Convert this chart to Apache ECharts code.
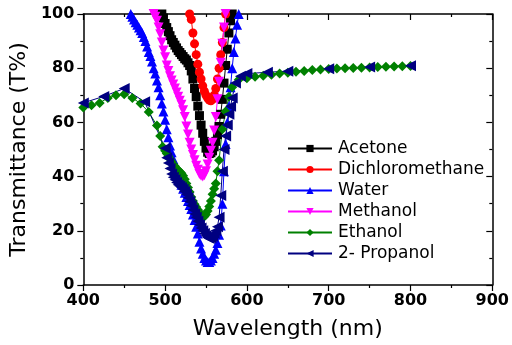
<!DOCTYPE html>
<html>
<head>
<meta charset="utf-8">
<script src="https://cdn.jsdelivr.net/npm/echarts@6/dist/echarts.min.js"></script>
<style>
  html, body { margin: 0; padding: 0; background: #fff; }
  #chart { width: 512px; height: 345px; }
</style>
</head>
<body>
<div id="chart"></div>
<script>
// transmittance spectra
var acetoneNm = [496, 498, 500, 502, 504, 506, 508, 510, 512, 514, 516, 518, 520, 522, 524, 526, 528, 530, 532, 534, 536, 538, 540, 542, 544, 546, 548, 550, 552, 554, 556, 558, 560, 562, 564, 566, 568, 570, 572, 574, 576, 578, 580, 582];
var acetoneT = [100, 98.5, 96.5, 95, 93.5, 92, 90.5, 89.5, 88.5, 87.5, 86.5, 85.8, 85, 84.3, 83.5, 83, 82, 81, 79, 76, 72.5, 69.5, 66, 62.5, 59, 56, 53, 50.5, 49, 48.5, 48.8, 49.5, 51, 53, 55.5, 58.5, 63, 68.5, 74.5, 81, 87, 93, 97.5, 100];

var dcmNm = [530, 532, 534, 536, 538, 540, 542, 544, 546, 548, 550, 552, 554, 556, 558, 560, 562, 564, 566, 568, 570, 572, 574];
var dcmT = [100, 98, 93, 89, 85, 81.5, 78.5, 76, 73.5, 71.5, 70, 69, 68.2, 68, 68.5, 70, 72.5, 76, 80, 85, 89.5, 95, 100];

var waterNm = [458, 460, 462, 464, 466, 468, 470, 472, 474, 476, 478, 480, 482, 484, 486, 488, 490, 492, 494, 496, 498, 500, 502, 504, 506, 508, 510, 512, 514, 516, 518, 520, 522, 524, 526, 528, 530, 532, 534, 536, 538, 540, 542, 544, 546, 548, 550, 552, 554, 556, 558, 560, 562, 564, 566, 568, 570, 572, 574, 576, 578, 580, 582, 584, 586, 588, 590];
var waterT = [100, 99, 98, 97, 96, 95, 94, 93, 91.5, 90, 88, 86, 84.5, 82.5, 80, 78, 75.5, 73, 70, 67, 64, 61, 57.5, 54.5, 51.5, 49, 46.5, 44, 42, 40, 38.5, 37, 35.5, 34, 32.5, 31, 29.5, 28, 26, 24, 21.5, 19, 16, 13.5, 11.5, 10, 9, 8.5, 8.5, 9, 10, 11.5, 13, 15.5, 18.5, 22, 30, 42, 52, 60, 66, 73, 80, 86, 91, 96, 100];

var methanolNm = [486, 488, 490, 492, 494, 496, 498, 500, 502, 504, 506, 508, 510, 512, 514, 516, 518, 520, 522, 524, 526, 528, 530, 532, 534, 536, 538, 540, 542, 544, 546, 548, 550, 552, 554, 556, 558, 560, 562, 564, 566, 568, 570, 572, 574];
var methanolT = [100, 99, 97.5, 95, 92.5, 89.5, 86.5, 84, 81, 79, 77, 75.5, 74, 72.5, 71, 69.5, 68, 66.5, 64.5, 62, 58.5, 55.5, 52.5, 50, 48, 46, 44, 42.5, 41, 40.3, 40, 40.5, 42, 44.5, 47, 49.5, 52.5, 57, 62, 68.5, 75, 82, 89, 95, 100];

var ethanolNm = [400, 410, 420, 430, 440, 450, 460, 470, 480, 490, 494, 497, 500, 502, 504, 506, 508, 510, 512, 514, 516, 518, 520, 522, 524, 526, 528, 530, 532, 534, 536, 538, 540, 542, 544, 546, 548, 550, 552, 554, 556, 558, 560, 562, 564, 566, 570, 574, 578, 582, 590, 600, 610, 620, 630, 640, 650, 660, 670, 680, 690, 700, 710, 720, 730, 740, 750, 760, 770, 780, 790, 800];
var ethanolT = [65.5, 66.3, 67.2, 69, 70, 70.4, 69, 67, 63.8, 58.9, 55, 51, 49.5, 48.5, 47.5, 46.5, 45.5, 44.5, 43.8, 43, 42.3, 41.8, 41.2, 40.3, 39, 37.5, 36, 34.3, 32.5, 31, 29.8, 28.8, 27.8, 26.8, 26, 25.5, 25.3, 26, 27.3, 29, 31, 33.5, 35.5, 37.5, 42, 46, 57.5, 64, 69.5, 73, 75.7, 76.3, 76.8, 77.2, 77.6, 78, 78.3, 78.7, 79, 79.3, 79.5, 79.7, 79.9, 80, 80.1, 80.2, 80.3, 80.4, 80.5, 80.6, 80.7, 80.8];

var propanolNm = [400, 425, 450, 475, 500, 502, 504, 506, 508, 510, 512, 514, 516, 518, 520, 522, 524, 526, 528, 530, 532, 534, 536, 538, 540, 542, 544, 546, 548, 550, 552, 554, 556, 558, 560, 562, 564, 566, 568, 570, 572, 574, 576, 578, 580, 582, 586, 592, 600, 625, 650, 700, 750, 800];
var propanolT = [67.2, 69.6, 72.5, 67.6, 50.5, 47, 45, 43, 41, 39.8, 38.8, 37.8, 37, 36.5, 36, 35.3, 34.5, 33.5, 32.2, 30.8, 29.3, 27.8, 26.2, 25, 23.5, 22.2, 21, 20, 19, 18.2, 17.5, 17.2, 17.4, 18, 19, 20, 21.5, 25, 33, 42, 50, 55, 59, 63, 66, 69, 74.5, 77, 78, 78.5, 78.9, 79.8, 80.4, 80.9];

var seriesNames = ['Acetone', 'Dichloromethane', 'Water', 'Methanol', 'Ethanol', '2- Propanol'];
var colors = ['#000000', '#ff0000', '#0000ff', '#ff00ff', '#008000', '#000080'];
var symbols = ['rect', 'circle', 'triangle', 'triangle', 'diamond', 'triangle'];
var rotations = [0, 0, 0, 180, 0, 90];
var sizes = [9, 9, 10, 10, 10, 11];
var xs = [acetoneNm, dcmNm, waterNm, methanolNm, ethanolNm, propanolNm];
var ys = [acetoneT, dcmT, waterT, methanolT, ethanolT, propanolT];

function pairs(a, b) {
    var out = [];
    for (var i = 0; i < a.length; i++) {
        out.push([a[i], b[i]]);
    }
    return out;
}

var series = [];
for (var k = 0; k < seriesNames.length; k++) {
    series.push({
        name: seriesNames[k],
        type: 'line',
        xAxisIndex: 0,
        yAxisIndex: 0,
        data: pairs(xs[k], ys[k]),
        symbol: symbols[k],
        symbolRotate: rotations[k],
        symbolSize: sizes[k],
        showAllSymbol: true,
        clip: true,
        animation: false,
        lineStyle: { color: colors[k], width: 1 },
        itemStyle: { color: colors[k], borderWidth: 0 }
    });
}

var frame = { show: true, onZero: false, lineStyle: { color: '#000', width: 1.5 } };

var chart = echarts.init(document.getElementById('chart'));
chart.setOption({
    backgroundColor: '#fff',
    animation: false,
    grid: { left: 80, right: 19, top: 14, bottom: 58 },
    legend: {
        orient: 'vertical',
        left: 282,
        top: 135,
        itemWidth: 44,
        itemHeight: 9,
        itemGap: 4,
        data: seriesNames,
        textStyle: { fontFamily: 'DejaVu Sans', fontSize: 17, color: '#000', lineHeight: 17, padding: [0, 0, 0, 1] }
    },
    xAxis: [{
        type: 'value',
        position: 'bottom',
        min: 400, max: 900, interval: 100,
        name: 'Wavelength (nm)',
        nameLocation: 'middle',
        nameGap: 33,
        nameTextStyle: { fontFamily: 'DejaVu Sans', fontSize: 22, color: '#000' },
        axisLine: frame,
        axisTick: { show: true, inside: false, length: 6, lineStyle: { color: '#000', width: 1.2 } },
        minorTick: { show: true, splitNumber: 2, length: 3, lineStyle: { color: '#000', width: 1.2 } },
        axisLabel: { margin: 8, fontFamily: 'DejaVu Sans', fontWeight: 'bold', fontSize: 16, color: '#000' },
        splitLine: { show: false }
    }, {
        type: 'value',
        position: 'top',
        min: 400, max: 900, interval: 100,
        axisLine: frame,
        axisTick: { show: true, inside: true, length: 6, lineStyle: { color: '#000', width: 1.2 } },
        minorTick: { show: true, splitNumber: 2, length: 3, lineStyle: { color: '#000', width: 1.2 } },
        axisLabel: { show: false },
        splitLine: { show: false }
    }],
    yAxis: [{
        type: 'value',
        position: 'left',
        min: 0, max: 100, interval: 20,
        name: 'Transmittance (T%)',
        nameLocation: 'middle',
        nameGap: 42,
        nameTextStyle: { fontFamily: 'DejaVu Sans', fontSize: 22, color: '#000' },
        axisLine: frame,
        axisTick: { show: true, inside: false, length: 6, lineStyle: { color: '#000', width: 1.2 } },
        minorTick: { show: true, splitNumber: 2, length: 3, lineStyle: { color: '#000', width: 1.2 } },
        axisLabel: { margin: 9, fontFamily: 'DejaVu Sans', fontWeight: 'bold', fontSize: 16, color: '#000' },
        splitLine: { show: false }
    }, {
        type: 'value',
        position: 'right',
        min: 0, max: 100, interval: 20,
        axisLine: frame,
        axisTick: { show: true, inside: true, length: 6, lineStyle: { color: '#000', width: 1.2 } },
        minorTick: { show: true, splitNumber: 2, length: 3, lineStyle: { color: '#000', width: 1.2 } },
        axisLabel: { show: false },
        splitLine: { show: false }
    }],
    series: series
});
</script>
</body>
</html>
